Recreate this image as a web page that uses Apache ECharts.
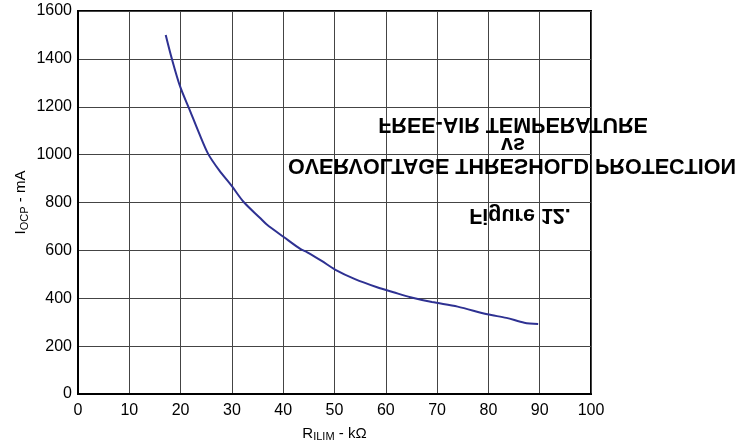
<!DOCTYPE html>
<html>
<head>
<meta charset="utf-8">
<script src="https://cdn.jsdelivr.net/npm/echarts@6/dist/echarts.min.js"></script>
<style>
  html, body { margin: 0; padding: 0; background: #fff; }
  #chart { width: 753px; height: 444px; }
</style>
</head>
<body>
<div id="chart"></div>
<script>
// Over-current protection threshold vs ILIM resistor
const rIlim = [17.1, 18.3, 19.9, 21.9, 23.5, 25.4, 27.5, 30.0, 32.3, 35.5, 36.8, 40.1, 43.4, 44.7, 47.5, 50.1, 54.0, 58.3, 61.5, 64.8, 69.0, 74.0, 79.8, 83.5, 87.0, 89.7];
const iOcp = [1500, 1400, 1285, 1180, 1095, 1002, 935, 868, 802, 735, 708, 656, 605, 592, 556, 520, 480, 446, 425, 404, 384, 365, 333, 318, 298, 292];
const xTicks = [0, 10, 20, 30, 40, 50, 60, 70, 80, 90, 100];
const yTicks = [0, 200, 400, 600, 800, 1000, 1200, 1400, 1600];
const captionLines = ['FREE-AIR TEMPERATURE', 'vs', 'OVERVOLTAGE THRESHOLD PROTECTION', 'Figure 12.'];
const captionPos = [[513, 124], [513, 144], [512, 165], [520, 215]];

const chart = echarts.init(document.getElementById('chart'));
const font = 'Liberation Sans, Arial, sans-serif';

const nameRich = {
  m: { fontFamily: font, fontSize: 15, color: '#000', lineHeight: 18 },
  s: { fontFamily: font, fontSize: 11, color: '#000', lineHeight: 18, padding: [8, 0, 0, 0] }
};

const option = {
  animation: false,
  backgroundColor: '#fff',
  grid: {
    left: 78, right: 162, top: 11, bottom: 50,
    containLabel: false,
    outerBoundsMode: 'none',
    show: true, borderColor: '#000', borderWidth: 2
  },
  xAxis: {
    type: 'value',
    min: xTicks[0], max: xTicks[xTicks.length - 1], interval: 10,
    axisLine: { show: true, lineStyle: { color: '#000', width: 2 } },
    axisTick: { show: false },
    splitLine: { show: true, lineStyle: { color: '#444', width: 1 } },
    axisLabel: { color: '#000', fontFamily: font, fontSize: 16, margin: 9, formatter: v => String(v) },
    name: '{m|R}{s|ILIM}{m| - kΩ}',
    nameLocation: 'middle',
    nameGap: 30,
    nameTextStyle: { rich: nameRich }
  },
  yAxis: {
    type: 'value',
    min: yTicks[0], max: yTicks[yTicks.length - 1], interval: 200,
    axisLine: { show: true, lineStyle: { color: '#000', width: 2 } },
    axisTick: { show: false },
    splitLine: { show: true, lineStyle: { color: '#444', width: 1 } },
    axisLabel: { color: '#000', fontFamily: font, fontSize: 16, margin: 6, formatter: v => String(v) },
    name: '{m|I}{s|OCP}{m| - mA}',
    nameLocation: 'middle',
    nameGap: 48,
    nameMoveOverlap: false,
    nameRotate: 90,
    nameTextStyle: { rich: nameRich }
  },
  series: [{
    type: 'line',
    data: rIlim.map((x, i) => [x, iOcp[i]]),
    showSymbol: false,
    smooth: 0.3,
    lineStyle: { color: '#2E3192', width: 2 }
  }],
  // caption printed mirrored top-to-bottom
  graphic: captionLines.map((t, i) => ({
    type: 'text',
    x: captionPos[i][0],
    y: captionPos[i][1],
    scaleY: -1,
    z: 100,
    style: {
      text: t,
      fill: '#000',
      font: 'bold 21.5px ' + font,
      textAlign: 'center',
      textVerticalAlign: 'middle'
    }
  }))
};
chart.setOption(option);
</script>
</body>
</html>
